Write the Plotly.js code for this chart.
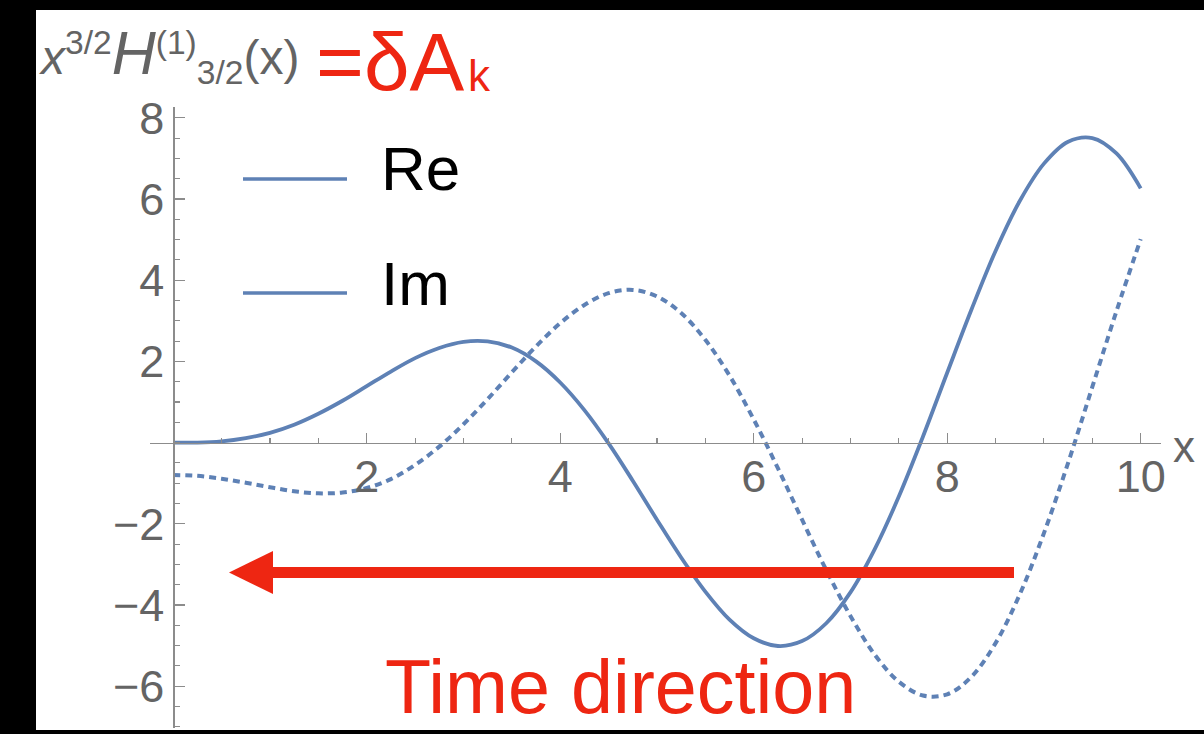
<!DOCTYPE html>
<html>
<head>
<meta charset="utf-8">
<script src="https://cdn.plot.ly/plotly-3.0.1.min.js"></script>
<style>
  html, body { margin: 0; padding: 0; background: #000; width: 1204px; height: 734px; overflow: hidden; }
  #chart { position: absolute; left: 36px; top: 10px; width: 1168px; height: 720px; }
</style>
</head>
<body>
<div id="chart"></div>
<script>
// Sample points of x^{3/2} H^(1)_{3/2}(x): real part (solid) and imaginary part (dotted)
const xVals = [0, 0.25, 0.5, 0.75, 1, 1.25, 1.5, 1.75, 2, 2.25, 2.5, 2.75, 3, 3.25, 3.5, 3.75,
  4, 4.25, 4.5, 4.75, 5, 5.25, 5.5, 5.75, 6, 6.25, 6.5, 6.75, 7, 7.25, 7.5, 7.75,
  8, 8.25, 8.5, 8.75, 9, 9.25, 9.5, 9.75, 10];
const reVals = [0, 0.00, 0.03, 0.11, 0.24, 0.44, 0.71, 1.03, 1.39, 1.75, 2.08, 2.33, 2.48, 2.49, 2.34, 2.00,
  1.48, 0.80, -0.02, -0.94, -1.90, -2.83, -3.67, -4.36, -4.82, -5.01, -4.89, -4.45, -3.69, -2.63, -1.33, 0.15,
  1.72, 3.27, 4.72, 5.95, 6.87, 7.41, 7.50, 7.12, 6.26];
const imVals = [-0.80, -0.82, -0.89, -0.99, -1.10, -1.20, -1.25, -1.23, -1.12, -0.90, -0.55, -0.10, 0.45, 1.07, 1.73, 2.37,
  2.94, 3.39, 3.68, 3.76, 3.60, 3.19, 2.53, 1.65, 0.57, -0.63, -1.90, -3.14, -4.27, -5.22, -5.89, -6.23,
  -6.20, -5.77, -4.94, -3.74, -2.23, -0.50, 1.37, 3.24, 5.01];

const seriesNames = ['Re', 'Im'];
const xTickVals = [2, 4, 6, 8, 10];
const xTickText = ['2', '4', '6', '8', '10'];
const yTickVals = [-6, -4, -2, 2, 4, 6, 8];
const yTickText = ['\u22126', '\u22124', '\u22122', '2', '4', '6', '8'];

// Frame geometry (page pixels) and helpers to place overlay items in paper units
const W = 1168, H = 720, ML = 114, MR = 43, MT = 97, MB = 2;
const OX = 36, OY = 10;
const pw = W - ML - MR, ph = H - MT - MB;
const fx = p => (p - OX - ML) / pw;
const fy = p => (OY + H - MB - p) / ph;

const XR = [-0.24, 10.21];
const YR = [-7.03, 8.265];

function halfSteps(lo, hi, skip) {
  const out = [];
  for (let v = Math.ceil(lo * 2) / 2; v <= hi; v += 0.5) {
    if (!skip.includes(v)) out.push(v);
  }
  return out;
}

const lineBlue = '#5e81b5';
const red = '#ee2612';
const gray = '#646464';
const axisGray = '#8c8c8c';
const font = 'Liberation Sans, Arial, Helvetica, sans-serif';

const traces = [
  { x: xVals, y: imVals, type: 'scatter', mode: 'lines', name: seriesNames[1],
    line: { color: lineBlue, width: 4, dash: '7px,5px', shape: 'spline', smoothing: 1 }, showlegend: false },
  { x: xVals, y: reVals, type: 'scatter', mode: 'lines', name: seriesNames[0],
    line: { color: lineBlue, width: 3.8, shape: 'spline', smoothing: 1 }, showlegend: false }
];

const axisCommon = {
  showgrid: false, zeroline: false, showline: true, linecolor: axisGray, linewidth: 1.3,
  ticks: 'inside', ticklen: 10, tickwidth: 1.2, tickcolor: axisGray,
  tickfont: { family: font, size: 45, color: gray },
  tickmode: 'array', anchor: 'free', fixedrange: true
};

const layout = {
  width: W, height: H,
  margin: { l: ML, r: MR, t: MT, b: MB, pad: 0 },
  paper_bgcolor: '#ffffff', plot_bgcolor: '#ffffff',
  showlegend: false,
  xaxis: Object.assign({}, axisCommon, {
    range: XR, position: (0 - YR[0]) / (YR[1] - YR[0]),
    tickvals: xTickVals, ticktext: xTickText, ticklabelstandoff: -6,
    minor: { tickmode: 'array', tickvals: halfSteps(0, 10, xTickVals), ticks: 'inside', ticklen: 5, tickwidth: 1.1, tickcolor: axisGray }
  }),
  yaxis: Object.assign({}, axisCommon, {
    range: YR, position: (0 - XR[0]) / (XR[1] - XR[0]),
    tickvals: yTickVals, ticktext: yTickText,
    minor: { tickmode: 'array', tickvals: halfSteps(-7, 8, yTickVals), ticks: 'inside', ticklen: 5, tickwidth: 1.1, tickcolor: axisGray }
  }),
  shapes: [
    // legend swatches
    { type: 'line', xref: 'paper', yref: 'paper', x0: fx(243), x1: fx(347), y0: fy(179), y1: fy(179), line: { color: lineBlue, width: 3.6 } },
    { type: 'line', xref: 'paper', yref: 'paper', x0: fx(243), x1: fx(347), y0: fy(293), y1: fy(293), line: { color: lineBlue, width: 3.6 } },
    // time-direction arrow: shaft and head
    { type: 'line', xref: 'paper', yref: 'paper', x0: fx(1014), x1: fx(270), y0: fy(572.5), y1: fy(572.5), line: { color: red, width: 11 } },
    { type: 'path', xref: 'paper', yref: 'paper',
      path: `M ${fx(229)},${fy(572.5)} L ${fx(273)},${fy(551)} L ${fx(273)},${fy(594)} Z`,
      fillcolor: red, line: { width: 0 } }
  ],
  annotations: [
    { xref: 'paper', yref: 'paper', x: fx(37), y: fy(55), xanchor: 'left', yanchor: 'middle', showarrow: false,
      text: '<i>x</i><sup>3/2</sup><span style="font-size:61px"><i>H</i></span><sup>(1)</sup><sub>3/2</sub>(x)',
      font: { family: font, size: 48, color: gray } },
    { xref: 'paper', yref: 'paper', x: fx(314), y: fy(61.6), xanchor: 'left', yanchor: 'middle', showarrow: false,
      text: '=\u03b4A', font: { family: font, size: 82, color: red } },
    { xref: 'paper', yref: 'paper', x: fx(466), y: fy(75), xanchor: 'left', yanchor: 'middle', showarrow: false,
      text: 'k', font: { family: font, size: 44, color: red } },
    { xref: 'paper', yref: 'paper', x: fx(379), y: fy(168.5), xanchor: 'left', yanchor: 'middle', showarrow: false,
      text: seriesNames[0], font: { family: font, size: 62, color: '#000000' } },
    { xref: 'paper', yref: 'paper', x: fx(379), y: fy(283.5), xanchor: 'left', yanchor: 'middle', showarrow: false,
      text: seriesNames[1], font: { family: font, size: 62, color: '#000000' } },
    { xref: 'paper', yref: 'paper', x: fx(1171), y: fy(446), xanchor: 'left', yanchor: 'middle', showarrow: false,
      text: 'x', font: { family: font, size: 44, color: gray } },
    { xref: 'paper', yref: 'paper', x: fx(383), y: fy(687.4), xanchor: 'left', yanchor: 'middle', showarrow: false,
      text: 'Time direction', font: { family: font, size: 75.5, color: red } }
  ]
};

Plotly.newPlot('chart', traces, layout, { staticPlot: true, displayModeBar: false });
</script>
</body>
</html>
